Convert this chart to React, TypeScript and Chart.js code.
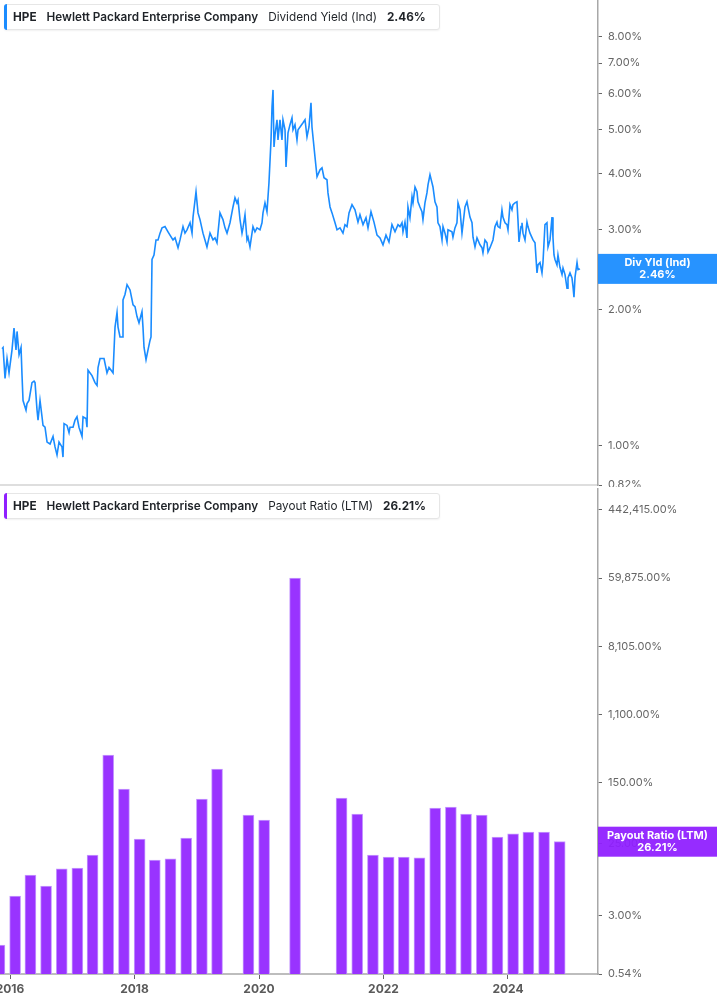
import React, { useEffect, useRef } from 'react';
import { Chart, registerables } from 'chart.js';

Chart.register(...registerables);
Chart.defaults.font.family = 'Inter, "Noto Sans", sans-serif';

// ---------- DATA ----------
const ticker = 'HPE';
const company = 'Hewlett Packard Enterprise Company';
const yieldLabel = 'Dividend Yield (Ind)';
const yieldShort = 'Div Yld (Ind)';
const payoutLabel = 'Payout Ratio (LTM)';

// Dividend yield (%), x as decimal year
const yieldYears = [
  2015.872, 2015.888, 2015.920, 2015.952, 2015.984, 2016.032, 2016.064, 2016.096, 2016.113, 2016.145,
  2016.177, 2016.193, 2016.209, 2016.257, 2016.273, 2016.305, 2016.353, 2016.386, 2016.402, 2016.434,
  2016.450, 2016.482, 2016.514, 2016.530, 2016.562, 2016.595, 2016.643, 2016.691, 2016.723, 2016.755,
  2016.787, 2016.835, 2016.851, 2016.868, 2016.916, 2016.948, 2016.964, 2017.012, 2017.044, 2017.076,
  2017.108, 2017.157, 2017.173, 2017.221, 2017.237, 2017.253, 2017.317, 2017.365, 2017.398, 2017.414,
  2017.446, 2017.510, 2017.558, 2017.590, 2017.639, 2017.655, 2017.687, 2017.719, 2017.735, 2017.767,
  2017.799, 2017.815, 2017.847, 2017.880, 2017.928, 2017.976, 2018.008, 2018.040, 2018.072, 2018.120,
  2018.136, 2018.153, 2018.185, 2018.217, 2018.249, 2018.265, 2018.281, 2018.313, 2018.345, 2018.378,
  2018.410, 2018.442, 2018.490, 2018.538, 2018.570, 2018.618, 2018.651, 2018.699, 2018.731, 2018.779,
  2018.811, 2018.843, 2018.892, 2018.924, 2018.940, 2018.988, 2019.020, 2019.052, 2019.100, 2019.132,
  2019.164, 2019.213, 2019.261, 2019.293, 2019.325, 2019.373, 2019.421, 2019.454, 2019.486, 2019.534,
  2019.582, 2019.614, 2019.646, 2019.663, 2019.695, 2019.727, 2019.743, 2019.775, 2019.807, 2019.823,
  2019.855, 2019.903, 2019.935, 2019.968, 2020.016, 2020.048, 2020.064, 2020.096, 2020.128, 2020.160,
  2020.193, 2020.209, 2020.225, 2020.241, 2020.257, 2020.289, 2020.305, 2020.337, 2020.369, 2020.385,
  2020.418, 2020.434, 2020.466, 2020.498, 2020.530, 2020.546, 2020.578, 2020.610, 2020.627, 2020.659,
  2020.707, 2020.739, 2020.771, 2020.803, 2020.835, 2020.851, 2020.899, 2020.932, 2020.980, 2021.012,
  2021.044, 2021.092, 2021.108, 2021.141, 2021.173, 2021.221, 2021.253, 2021.301, 2021.349, 2021.381,
  2021.414, 2021.446, 2021.494, 2021.542, 2021.590, 2021.622, 2021.671, 2021.719, 2021.751, 2021.799,
  2021.847, 2021.896, 2021.944, 2021.992, 2022.040, 2022.088, 2022.136, 2022.185, 2022.233, 2022.265,
  2022.297, 2022.313, 2022.345, 2022.377, 2022.393, 2022.425, 2022.458, 2022.474, 2022.506, 2022.538,
  2022.554, 2022.586, 2022.618, 2022.634, 2022.666, 2022.698, 2022.715, 2022.747, 2022.779, 2022.795,
  2022.827, 2022.859, 2022.875, 2022.907, 2022.940, 2022.956, 2022.988, 2023.020, 2023.036, 2023.100,
  2023.116, 2023.148, 2023.180, 2023.197, 2023.229, 2023.261, 2023.277, 2023.309, 2023.341, 2023.357,
  2023.389, 2023.422, 2023.438, 2023.470, 2023.502, 2023.550, 2023.582, 2023.598, 2023.630, 2023.663,
  2023.679, 2023.711, 2023.759, 2023.791, 2023.823, 2023.839, 2023.871, 2023.903, 2023.919, 2023.952,
  2023.984, 2024.000, 2024.032, 2024.064, 2024.080, 2024.112, 2024.144, 2024.160, 2024.177, 2024.209,
  2024.225, 2024.241, 2024.273, 2024.305, 2024.321, 2024.353, 2024.402, 2024.434, 2024.466, 2024.482,
  2024.514, 2024.546, 2024.562, 2024.594, 2024.626, 2024.643, 2024.675, 2024.707, 2024.723, 2024.739,
  2024.755, 2024.787, 2024.803, 2024.835, 2024.868, 2024.884, 2024.916, 2024.948, 2024.964, 2024.996,
  2025.028, 2025.044, 2025.060, 2025.077, 2025.109, 2025.125, 2025.157,
];
const yieldPct = [
  1.64, 1.65, 1.41, 1.56, 1.45, 1.63, 1.82, 1.63, 1.79, 1.59,
  1.65, 1.43, 1.26, 1.20, 1.24, 1.26, 1.38, 1.39, 1.38, 1.20,
  1.14, 1.26, 1.16, 1.11, 1.10, 1.02, 1.01, 1.05, 0.995, 0.955,
  1.02, 0.995, 0.945, 1.12, 1.11, 1.07, 1.10, 1.10, 1.14, 1.16,
  1.10, 1.05, 1.16, 1.15, 1.10, 1.47, 1.43, 1.38, 1.36, 1.49,
  1.56, 1.56, 1.45, 1.49, 1.46, 1.45, 1.83, 1.97, 1.83, 1.74,
  1.74, 2.10, 2.16, 2.27, 2.21, 2.05, 2.03, 1.93, 1.87, 1.98,
  1.83, 1.65, 1.55, 1.63, 1.71, 1.74, 2.58, 2.64, 2.85, 2.85,
  2.95, 3.03, 3.05, 2.97, 2.92, 2.85, 2.88, 2.74, 2.85, 3.05,
  2.95, 3.00, 3.11, 2.95, 3.20, 3.64, 3.27, 3.16, 2.95, 2.85,
  2.75, 2.95, 2.85, 2.88, 2.81, 3.27, 3.16, 3.03, 2.95, 3.11,
  3.37, 3.53, 3.44, 3.49, 3.16, 2.95, 3.03, 3.24, 2.85, 2.89,
  2.75, 3.05, 2.97, 3.03, 3.00, 3.11, 3.27, 3.44, 3.29, 3.81,
  4.74, 5.61, 6.11, 4.57, 4.86, 5.25, 4.74, 5.25, 4.74, 5.25,
  4.99, 4.13, 4.91, 5.12, 5.30, 4.99, 5.12, 4.74, 4.99, 5.06,
  5.17, 5.25, 4.81, 5.06, 5.72, 5.06, 4.35, 3.93, 4.07, 4.11,
  3.91, 3.87, 3.62, 3.37, 3.27, 3.11, 3.00, 3.03, 2.95, 3.08,
  3.05, 3.27, 3.41, 3.32, 3.12, 3.24, 3.08, 3.19, 3.03, 3.29,
  3.12, 2.92, 2.88, 2.78, 2.92, 2.82, 3.08, 2.97, 3.08, 3.05,
  3.11, 2.97, 3.12, 2.88, 3.37, 3.19, 3.55, 3.44, 3.73, 3.64,
  3.46, 3.37, 3.29, 3.16, 3.44, 3.62, 3.77, 3.97, 3.81, 3.73,
  3.46, 3.37, 3.11, 3.05, 2.85, 3.05, 2.95, 2.82, 3.00, 2.97,
  2.89, 3.03, 3.11, 3.44, 3.32, 2.95, 3.08, 3.37, 3.46, 3.37,
  3.20, 3.11, 2.89, 2.75, 2.88, 2.78, 2.74, 2.67, 2.85, 2.81,
  2.68, 2.74, 2.85, 3.05, 3.12, 3.05, 3.03, 3.32, 3.20, 3.11,
  3.08, 3.00, 3.41, 3.32, 3.41, 3.44, 3.46, 3.16, 2.82, 3.05,
  3.11, 2.95, 2.85, 3.12, 3.05, 2.95, 2.85, 2.81, 2.41, 2.51,
  2.54, 2.41, 2.54, 3.08, 3.11, 2.75, 2.85, 3.20, 2.88, 2.64,
  2.58, 2.51, 2.64, 2.48, 2.39, 2.47, 2.39, 2.23, 2.35, 2.41,
  2.35, 2.25, 2.13, 2.36, 2.54, 2.45, 2.46,
];

// Payout ratio (LTM, %) at fiscal quarter ends; null = not shown
const payoutDates = [
  '2015-10-31', '2016-01-31', '2016-04-30', '2016-07-31', '2016-10-31',
  '2017-01-31', '2017-04-30', '2017-07-31', '2017-10-31',
  '2018-01-31', '2018-04-30', '2018-07-31', '2018-10-31',
  '2019-01-31', '2019-04-30', '2019-07-31', '2019-10-31',
  '2020-01-31', '2020-04-30', '2020-07-31', '2020-10-31',
  '2021-01-31', '2021-04-30', '2021-07-31', '2021-10-31',
  '2022-01-31', '2022-04-30', '2022-07-31', '2022-10-31',
  '2023-01-31', '2023-04-30', '2023-07-31', '2023-10-31',
  '2024-01-31', '2024-04-30', '2024-07-31', '2024-10-31',
];
const payoutPct: (number | null)[] = [
  1.26, 5.33, 9.86, 7.14, 11.8,
  12.1, 17.7, 334, 123,
  28.4, 15.3, 15.8, 29.2,
  91.8, 221, null, 57.4,
  49.5, null, 60100, null,
  null, 94.5, 59.1, 17.7,
  16.7, 16.7, 16.3, 70.5,
  72.6, 59.1, 57.4, 30.1,
  32.9, 34.8, 34.8, 26.21,
];

const yieldTicks = [0.82, 1, 2, 3, 4, 5, 6, 7, 8];
const payoutTicks = [0.54, 3, 25, 150, 1100, 8105, 59875, 442415];
const yearTicks = [2016, 2018, 2020, 2022, 2024];

const xMin = 2015.839;
const xMax = 2025.446;
const yieldMin = 0.82;
const yieldMax = 9.65;
const payoutMin = 0.54;
const payoutMax = 843600;

// ---------- HELPERS ----------
const BLUE = '#1a8cff';
const PURPLE = '#9933ff';
const PURPLE_BOX = '#8f1fff';

function decimalYear(s: string): number {
  const [y, m, d] = s.split('-').map(Number);
  const t = Date.UTC(y, m - 1, d);
  const a = Date.UTC(y, 0, 1);
  const b = Date.UTC(y + 1, 0, 1);
  return y + (t - a) / (b - a);
}

function fmtPct(v: number): string {
  return (
    Number(v).toLocaleString('en-US', { minimumFractionDigits: 2, maximumFractionDigits: 2 }) + '%'
  );
}

function yAxis(min: number, max: number, ticks: number[]) {
  return {
    type: 'logarithmic' as const,
    position: 'right' as const,
    min,
    max,
    bounds: 'data' as const,
    afterBuildTicks: (s: any) => {
      s.ticks = ticks.map((v) => ({ value: v }));
    },
    afterFit: (s: any) => {
      s.width = 119;
      s.paddingTop = 0;
      s.paddingBottom = 0;
    },
    grid: { drawOnChartArea: false, drawTicks: true, tickLength: 4, tickColor: '#666', lineWidth: 1, offset: false },
    border: { display: true, color: '#a8a8a8', width: 1.5 },
    ticks: {
      color: '#666',
      font: { size: 11 },
      padding: 6,
      autoSkip: false,
      callback: (v: any) => fmtPct(Number(v)),
    },
  };
}

function valueBox(value: number, color: string, title: string) {
  return {
    id: 'valueBox',
    afterDraw(chart: any) {
      const ys = chart.scales.y;
      const y = ys.getPixelForValue(value);
      const left = chart.chartArea.right;
      const right = chart.width;
      const h = 30;
      const ctx = chart.ctx;
      ctx.save();
      ctx.globalAlpha = 0.94;
      ctx.fillStyle = color;
      ctx.fillRect(left, y - h / 2, right - left, h);
      ctx.globalAlpha = 1;
      ctx.fillStyle = '#ffffff';
      ctx.font = 'bold 11px Inter, "Noto Sans", sans-serif';
      ctx.textAlign = 'center';
      ctx.textBaseline = 'middle';
      const cx = (left + right) / 2;
      ctx.fillText(title, cx, y - 6);
      ctx.fillText(fmtPct(value), cx, y + 6);
      ctx.restore();
    },
  };
}

// ---------- COMPONENTS ----------
function Header({ top, accent, metric, value }: { top: number; accent: string; metric: string; value: string }) {
  return (
    <div
      style={{
        position: 'absolute',
        left: 4,
        top,
        height: 26,
        boxSizing: 'border-box',
        border: '1px solid #e6e6e6',
        borderRadius: 3,
        background: '#fff',
        display: 'flex',
        alignItems: 'center',
        paddingLeft: 8,
        paddingRight: 13,
        fontFamily: 'Inter, "Noto Sans", sans-serif',
        fontSize: 11.75,
        color: '#1f2328',
        whiteSpace: 'nowrap',
        boxShadow: '0 1px 2px rgba(0,0,0,0.06)',
        zIndex: 2,
      }}
    >
      <div
        style={{
          position: 'absolute',
          left: -1,
          top: -1,
          bottom: -1,
          width: 3,
          background: accent,
          borderRadius: '3px 0 0 3px',
        }}
      />
      <span style={{ fontWeight: 700, marginRight: 10 }}>{ticker}</span>
      <span style={{ fontWeight: 600, marginRight: 10 }}>{company}</span>
      <span style={{ fontWeight: 400, marginRight: 10 }}>{metric}</span>
      <span style={{ fontWeight: 700 }}>{value}</span>
    </div>
  );
}

export default function App() {
  const topRef = useRef<HTMLCanvasElement | null>(null);
  const botRef = useRef<HTMLCanvasElement | null>(null);

  const lastYield = yieldPct[yieldPct.length - 1];
  const lastPayout = payoutPct[payoutPct.length - 1] as number;

  useEffect(() => {
    const lineData = yieldYears.map((x, i) => ({ x, y: yieldPct[i] }));
    const barData = payoutDates
      .map((d, i) => ({ x: decimalYear(d), y: payoutPct[i] }))
      .filter((p) => p.y !== null);

    const top = new Chart(topRef.current as HTMLCanvasElement, {
      type: 'line',
      data: {
        datasets: [
          {
            data: lineData,
            borderColor: BLUE,
            borderWidth: 1.6,
            pointRadius: 0,
            tension: 0,
            fill: false,
          },
        ],
      },
      options: {
        responsive: false,
        animation: false,
        layout: { padding: 0 },
        plugins: { legend: { display: false }, tooltip: { enabled: false } },
        scales: {
          x: {
            type: 'linear',
            min: xMin,
            max: xMax,
            afterFit: (s: any) => {
              s.height = 2;
              s.paddingLeft = 0;
              s.paddingRight = 0;
            },
            ticks: { display: false },
            grid: { display: false },
            border: { display: true, color: '#dedede', width: 2 },
          },
          y: yAxis(yieldMin, yieldMax, yieldTicks) as any,
        },
      },
      plugins: [valueBox(lastYield, BLUE, yieldShort)],
    });

    const bottom = new Chart(botRef.current as HTMLCanvasElement, {
      type: 'bar',
      data: {
        datasets: [
          {
            data: barData as any,
            backgroundColor: PURPLE,
            borderColor: '#c79cff',
            borderWidth: 1,
            barThickness: 11,
          },
        ],
      },
      options: {
        responsive: false,
        animation: false,
        layout: { padding: 0 },
        plugins: { legend: { display: false }, tooltip: { enabled: false } },
        scales: {
          x: {
            type: 'linear',
            min: xMin,
            max: xMax,
            offset: false,
            afterBuildTicks: (s: any) => {
              s.ticks = yearTicks.map((v) => ({ value: v }));
            },
            afterFit: (s: any) => {
              s.height = 31;
              s.paddingLeft = 0;
              s.paddingRight = 0;
            },
            grid: { drawOnChartArea: false, drawTicks: true, tickLength: 5, tickColor: '#666', offset: false },
            border: { display: true, color: '#bdbdbd', width: 2 },
            ticks: {
              color: '#5a5a5a',
              font: { size: 12, weight: 'bold' },
              padding: 3,
              maxRotation: 0,
              autoSkip: false,
              callback: (v: any) => String(v),
            },
          },
          y: yAxis(payoutMin, payoutMax, payoutTicks) as any,
        },
      },
      plugins: [valueBox(lastPayout, PURPLE_BOX, payoutLabel)],
    });

    return () => {
      top.destroy();
      bottom.destroy();
    };
  }, []);

  return (
    <div
      style={{
        position: 'absolute',
        left: 0,
        top: 0,
        width: 717,
        height: 1005,
        background: '#fff',
        overflow: 'hidden',
      }}
    >
      <canvas
        ref={topRef}
        width={717}
        height={487}
        style={{ position: 'absolute', left: 0, top: 0, width: 717, height: 487 }}
      />
      <canvas
        ref={botRef}
        width={717}
        height={517}
        style={{ position: 'absolute', left: 0, top: 488, width: 717, height: 517 }}
      />
      <Header top={4} accent={BLUE} metric={yieldLabel} value={fmtPct(lastYield)} />
      <Header top={493} accent={PURPLE_BOX} metric={payoutLabel} value={fmtPct(lastPayout)} />
    </div>
  );
}
